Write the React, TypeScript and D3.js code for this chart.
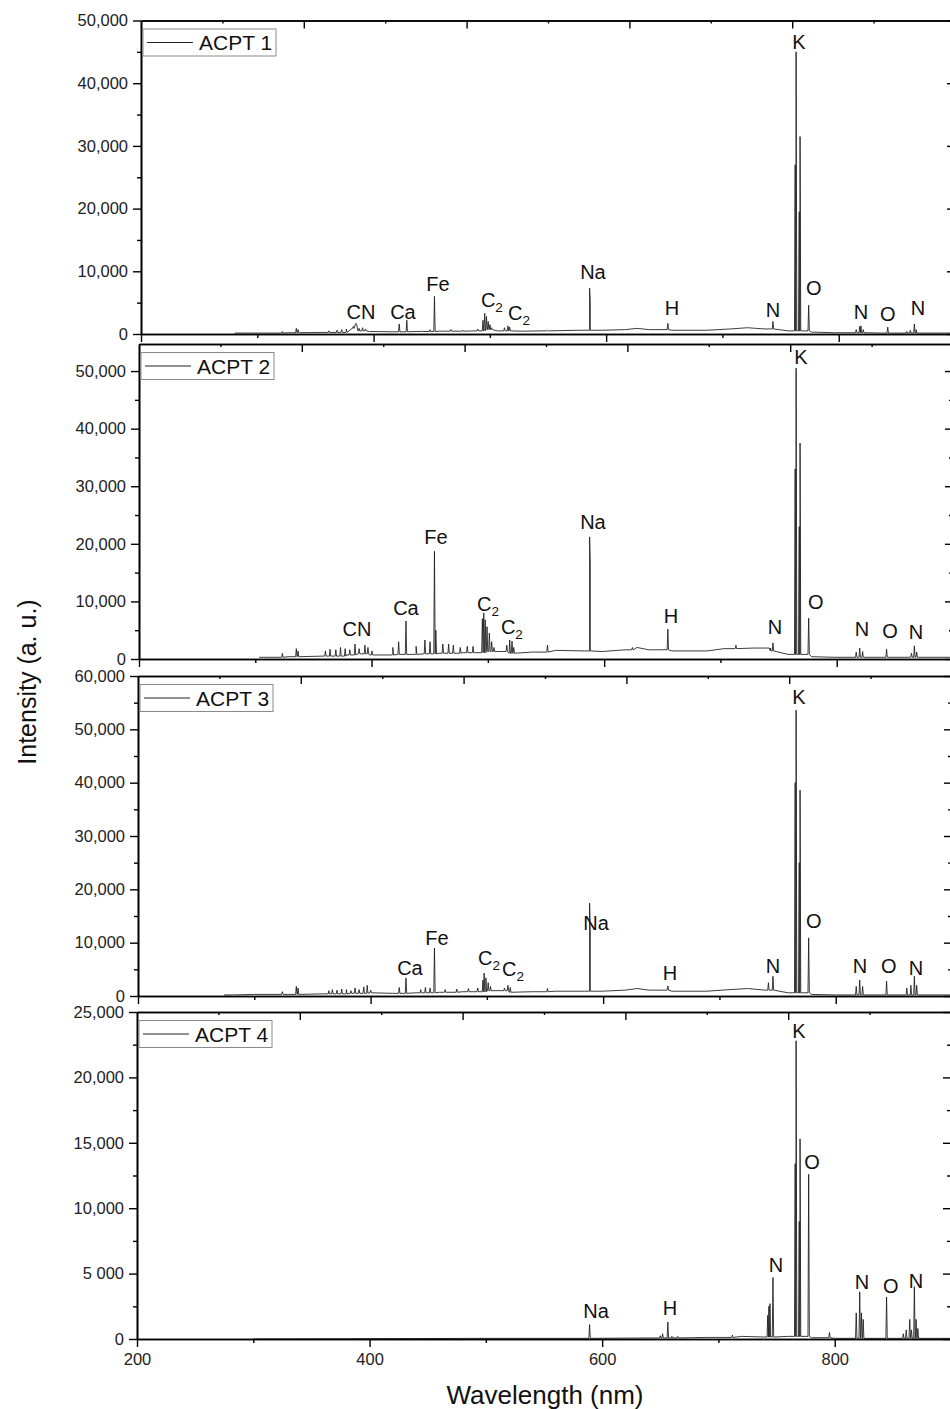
import React, { useRef, useEffect } from "react";
import * as d3 from "d3";

// ---- data ----
const names = ["ACPT 1", "ACPT 2", "ACPT 3", "ACPT 4"];
const yMaxes = [50000, 54700, 60000, 25000];

const yTicks1 = [0, 10000, 20000, 30000, 40000, 50000];
const yTicks2 = [0, 10000, 20000, 30000, 40000, 50000];
const yTicks3 = [0, 10000, 20000, 30000, 40000, 50000, 60000];
const yTicks4 = [0, 5000, 10000, 15000, 20000, 25000];
const yLabels1 = ["0", "10,000", "20,000", "30,000", "40,000", "50,000"];
const yLabels2 = ["0", "10,000", "20,000", "30,000", "40,000", "50,000"];
const yLabels3 = ["0", "10,000", "20,000", "30,000", "40,000", "50,000", "60,000"];
const yLabels4 = ["0", "5 000", "10,000", "15,000", "20,000", "25,000"];

const xTicks = [200, 400, 600, 800];
const xMinor = [300, 500, 700];

// continuum [nm, intensity]
const base1 = [[284,150],[300,150],[330,200],[360,250],[380,400],[385,900],[388,1500],[390,500],[400,400],[420,350],[440,400],[460,450],[480,500],[500,700],[510,500],[530,450],[550,500],[580,600],[600,600],[620,700],[630,900],[640,700],[660,600],[690,600],[710,800],[725,1000],[740,800],[760,500],[780,300],[800,200],[840,150],[870,150],[900,150]];
const base2 = [[305,300],[330,400],[360,500],[380,700],[390,900],[400,700],[420,800],[440,900],[460,1000],[480,1100],[500,1300],[520,1000],[540,1200],[560,1500],[585,1400],[600,1300],[620,1600],[630,2000],[640,1600],[660,1400],[690,1400],[705,1800],[715,2200],[730,1900],[745,1400],[760,800],[780,400],[800,300],[840,300],[900,300]];
const base3 = [[275,200],[300,300],[330,300],[360,400],[380,500],[400,600],[420,500],[440,600],[460,700],[480,800],[500,1000],[520,700],[540,800],[560,900],[585,900],[600,900],[620,1100],[630,1400],[640,1100],[660,900],[690,900],[710,1200],[725,1400],[740,1100],[760,600],[780,300],[800,200],[840,200],[900,200]];
const base4 = [[300,0],[500,50],[640,80],[690,120],[720,200],[740,150],[760,200],[780,100],[800,50],[900,50]];

// emission lines [nm, peak intensity]
const peaks1 = [[325,400],[337,900],[338.5,700],[365,500],[372,600],[376,700],[380,800],[386,1200],[388.3,1700],[391,900],[394,1000],[396.5,800],[425.5,1600],[432,2200],[445,500],[452,700],[455.8,6000],[470,700],[480,600],[493,800],[497.5,2200],[499,3300],[500.5,2800],[502,2000],[503.5,1500],[505,1000],[516,1000],[519,1300],[520.5,1100],[553,600],[589.2,7300],[589.8,5000],[656.5,1700],[744.2,900],[746.9,2000],[766,27000],[766.8,45000],[769.5,19500],[770.2,31500],[777.6,4600],[818.5,700],[821.5,1200],[822.5,1300],[824.5,700],[845.6,1100],[862,400],[865,600],[868.5,1600],[870,700]];
const peaks2 = [[325,1000],[337,1800],[338.5,1400],[362,1400],[366,1700],[371,1600],[375,2000],[379,1800],[383,1600],[387.5,2600],[391,1800],[396,2400],[398.6,2000],[402,1400],[420,2000],[425,3000],[431.3,6600],[440,2200],[447.6,3300],[452,3000],[455.8,18700],[457,5000],[463,2600],[468,2600],[472,2400],[478,2000],[484,2200],[489,2200],[497,7000],[498.2,8000],[499.5,6800],[501,5600],[503,4500],[505,3000],[507,2000],[518,2400],[520.5,3300],[522.5,3100],[524,2000],[553,2400],[589.2,21200],[589.8,16800],[626,2000],[656.5,5200],[715,2400],[744.3,1500],[746.9,2800],[766,33000],[766.8,50500],[769.5,23000],[770.2,37500],[777.6,7100],[818.5,1200],[821.5,1900],[824,1300],[844.6,1700],[866,1000],[868.5,2300],[870.5,1200]];
const peaks3 = [[283,300],[325,800],[337,1800],[338.5,1500],[365,1000],[368,1200],[372,1100],[376,1300],[380,1200],[384,1000],[387.5,1500],[391,1200],[395,1700],[398,2000],[401,1100],[425.5,1600],[431.3,3400],[444,1200],[448,1600],[452,1500],[455.8,9000],[465,1200],[475,1300],[485,1400],[493,1500],[497.5,3000],[498.5,4300],[500,3400],[502,2500],[504,1800],[516,1500],[519,2000],[521,1600],[553,1400],[589.2,17400],[589.8,12000],[656.5,1900],[743,2500],[746.9,3700],[766,40000],[766.8,53600],[769.5,25000],[770.2,38600],[777.6,10900],[818.5,1800],[821.5,3000],[824,1800],[844.6,2800],[862,1500],[865.5,2000],[868.5,3700],[870.5,2000]];
const peaks4 = [[589.2,1100],[650,250],[652,400],[656.5,1300],[660,200],[665,200],[712,300],[742.4,1800],[743.4,2500],[744.3,2700],[746.9,4700],[766,13400],[766.8,22800],[769.5,9000],[770.2,15300],[777.6,12600],[795.5,500],[818.5,2000],[821.5,3600],[823,2000],[824.5,1500],[844.6,3200],[859,400],[861.5,700],[864.5,1500],[866,700],[868.5,4000],[870,1500],[871.5,800]];

// peak annotations [text, nm, intensity at text baseline]
const notes1 = [["CN",392.6,2400],["Ca",428.7,2400],["Fe",458.8,6800],["C2",505.2,4300],["C2",528.5,2200],["Na",592.1,8800],["H",660,3000],["N",746.9,2700],["K",769.3,45500],["O",782.1,6200],["N",822.5,2400],["O",845.7,2100],["N",871.5,3000]];
const notes2 = [["CN",389.2,4000],["Ca",431.3,7600],["Fe",457.1,20000],["C2",501.8,8300],["C2",522.4,4300],["Na",592.1,22600],["H",659.1,6250],["N",748.6,4300],["K",770.9,51200],["O",783.8,8700],["N",823.4,4000],["O",847.5,3650],["N",869.8,3500]];
const notes3 = [["Ca",434.7,3900],["Fe",457.9,9600],["C2",502.7,5800],["C2",523.3,3750],["Na",594.7,12400],["H",658.3,3000],["N",746.9,4300],["K",769.3,54800],["O",782.1,12800],["N",821.7,4300],["O",846.6,4300],["N",869.8,3900]];
const notes4 = [["Na",594.7,1600],["H",658.3,1830],["N",749.5,5100],["K",769.3,23000],["O",780.4,13000],["N",823.4,3800],["O",848.3,3500],["N",869.8,3900]];

const bases = [base1, base2, base3, base4];
const peaks = [peaks1, peaks2, peaks3, peaks4];
const notes = [notes1, notes2, notes3, notes4];
const yTicks = [yTicks1, yTicks2, yTicks3, yTicks4];
const yLabels = [yLabels1, yLabels2, yLabels3, yLabels4];

// ---- layout ----
const W = 950;
const H = 1409;
const panelTop = [20.5, 344, 676, 1012];
const panelBottom = [334, 659, 996, 1339];
const panelLeft = [141, 139, 138, 137];
const FONT = "'Liberation Sans', Arial, sans-serif";

function spectrum(base: number[][], lines: number[][]) {
  const xs = base.map((d) => d[0]);
  const pts = base.map((d) => [d[0], d[1]]);
  lines.forEach(([nm, h]) => {
    const i = Math.max(0, d3.bisectLeft(xs, nm) - 1);
    const b = base[i][1];
    pts.push([nm - 0.6, b], [nm, h], [nm + 0.6, b]);
  });
  return pts.sort((a, b) => a[0] - b[0]);
}

const App = () => {
  const svgRef = useRef<SVGSVGElement>(null);

  useEffect(() => {
    const svg = d3.select(svgRef.current);
    svg.selectAll("*").remove();

    const xData = d3.scaleLinear().domain([200, 900]).range([137, 951]);

    const styleAxis = (g: any) => {
      g.select(".domain").attr("stroke", "#000").attr("stroke-width", 1.6);
      g.selectAll(".tick line").attr("stroke", "#000").attr("stroke-width", 1.4);
      g.selectAll(".tick text")
        .attr("fill", "#222")
        .style("font-family", FONT)
        .style("font-size", "16.5px");
    };

    names.forEach((name, i) => {
      const top = panelTop[i];
      const bottom = panelBottom[i];
      const left = panelLeft[i];
      const right = left + 814;
      const xAxisScale = d3.scaleLinear().domain([200, 900]).range([left, right]);
      const y = d3.scaleLinear().domain([0, yMaxes[i]]).range([bottom, top]);
      const step = yTicks[i][1] - yTicks[i][0];
      const minors = yTicks[i].map((t) => t + step / 2).filter((t) => t < yMaxes[i]);

      const g = svg.append("g");

      // spectrum
      const line = d3
        .line<number[]>()
        .x((d) => xData(d[0]))
        .y((d) => y(d[1]));
      g.append("path")
        .datum(spectrum(bases[i], peaks[i]))
        .attr("fill", "none")
        .attr("stroke", "#1a1a1a")
        .attr("stroke-width", 0.85)
        .attr("stroke-linejoin", "round")
        .attr("d", line);

      // left axis
      g.append("g")
        .attr("transform", `translate(${left},0)`)
        .call(
          d3
            .axisLeft(y)
            .tickValues(yTicks[i])
            .tickFormat((_, k) => yLabels[i][k])
            .tickSize(8)
            .tickPadding(5)
            .tickSizeOuter(0)
        )
        .call(styleAxis);
      g.append("g")
        .attr("transform", `translate(${left},0)`)
        .call(d3.axisLeft(y).tickValues(minors).tickFormat(() => "").tickSize(4).tickSizeOuter(0))
        .call(styleAxis);

      // right mirror axis (ticks inward)
      g.append("g")
        .attr("transform", `translate(${right},0)`)
        .call(d3.axisLeft(y).tickValues(yTicks[i]).tickFormat(() => "").tickSize(8).tickSizeOuter(0))
        .call(styleAxis);
      g.append("g")
        .attr("transform", `translate(${right},0)`)
        .call(d3.axisLeft(y).tickValues(minors).tickFormat(() => "").tickSize(4).tickSizeOuter(0))
        .call(styleAxis);

      // top mirror axis (ticks inward)
      const topMajor = d3.range(340, 900, 140);
      const topMinor = d3.range(270, 900, 140);
      g.append("g")
        .attr("transform", `translate(0,${top})`)
        .call(d3.axisBottom(xAxisScale).tickValues(topMajor).tickFormat(() => "").tickSize(8).tickSizeOuter(0))
        .call(styleAxis);
      g.append("g")
        .attr("transform", `translate(0,${top})`)
        .call(d3.axisBottom(xAxisScale).tickValues(topMinor).tickFormat(() => "").tickSize(3).tickSizeOuter(0))
        .call(styleAxis);

      // bottom axis
      const last = i === names.length - 1;
      g.append("g")
        .attr("transform", `translate(0,${bottom})`)
        .call(
          d3
            .axisBottom(xAxisScale)
            .tickValues(xTicks)
            .tickFormat((d) => (last ? String(d) : ""))
            .tickSize(8)
            .tickPadding(6)
            .tickSizeOuter(0)
        )
        .call(styleAxis);
      g.append("g")
        .attr("transform", `translate(0,${bottom})`)
        .call(d3.axisBottom(xAxisScale).tickValues(xMinor).tickFormat(() => "").tickSize(4).tickSizeOuter(0))
        .call(styleAxis);

      // peak labels
      notes[i].forEach(([t, nm, v]) => {
        const txt = g
          .append("text")
          .attr("x", xData(nm as number))
          .attr("y", y(v as number))
          .attr("text-anchor", "middle")
          .attr("fill", "#111")
          .style("font-family", FONT)
          .style("font-size", "20px");
        if (t === "C2") {
          txt.append("tspan").text("C");
          txt.append("tspan").attr("dy", 5).style("font-size", "13.5px").text("2");
        } else {
          txt.text(t as string);
        }
      });

      // legend
      const lx = left + 2;
      const ly = top + 8.5;
      g.append("rect")
        .attr("x", lx)
        .attr("y", ly)
        .attr("width", 133)
        .attr("height", 27)
        .attr("fill", "#fff")
        .attr("stroke", "#8a8a8a")
        .attr("stroke-width", 1);
      g.append("line")
        .attr("x1", lx + 4)
        .attr("x2", lx + 50)
        .attr("y1", ly + 13.5)
        .attr("y2", ly + 13.5)
        .attr("stroke", "#222")
        .attr("stroke-width", 1);
      g.append("text")
        .attr("x", lx + 56)
        .attr("y", ly + 21)
        .attr("fill", "#111")
        .style("font-family", FONT)
        .style("font-size", "21px")
        .text(name);
    });

    // axis titles
    svg
      .append("text")
      .attr("transform", `translate(36,682) rotate(-90)`)
      .attr("text-anchor", "middle")
      .attr("fill", "#111")
      .style("font-family", FONT)
      .style("font-size", "25px")
      .text("Intensity (a. u.)");
    svg
      .append("text")
      .attr("x", 545)
      .attr("y", 1404)
      .attr("text-anchor", "middle")
      .attr("fill", "#111")
      .style("font-family", FONT)
      .style("font-size", "26px")
      .text("Wavelength (nm)");
  }, []);

  return (
    <div>
      <svg
        ref={svgRef}
        width={W}
        height={H}
        style={{ position: "absolute", left: 0, top: 0, background: "#fff", overflow: "hidden" }}
      ></svg>
    </div>
  );
};

export default App;
